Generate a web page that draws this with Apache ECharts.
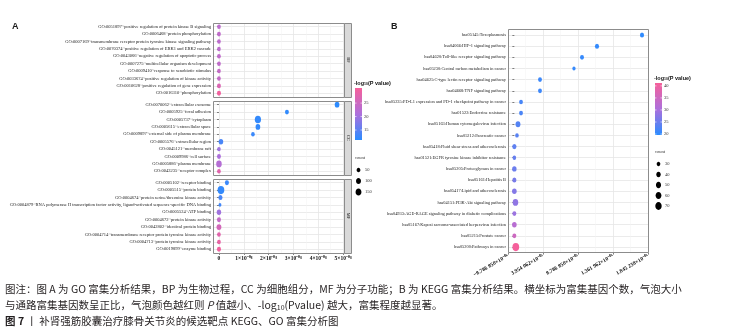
<!DOCTYPE html>
<html>
<head>
<meta charset="utf-8">
<script src="https://cdn.jsdelivr.net/npm/echarts@6/dist/echarts.min.js"></script>
<style>html,body{margin:0;padding:0;background:#fff}#main{width:742px;height:336px}</style>
</head>
<body>
<div id="main"></div>
<script>
// ---- GO: BP ----
var bpTerms = [
  'GO:0051897~positive regulation of protein kinase B signaling',
  'GO:0006468~protein phosphorylation',
  'GO:0007169~transmembrane receptor protein tyrosine kinase signaling pathway',
  'GO:0070374~positive regulation of ERK1 and ERK2 cascade',
  'GO:0043066~negative regulation of apoptotic process',
  'GO:0007275~multicellular organism development',
  'GO:0009410~response to xenobiotic stimulus',
  'GO:0033674~positive regulation of kinase activity',
  'GO:0010628~positive regulation of gene expression',
  'GO:0016310~phosphorylation'
];
var bpValue = [0, 0, 0, 0, 0, 0, 0, 0, 0, 0];
var bpCount = [48, 52, 46, 46, 50, 48, 47, 45, 55, 60];
var bpLogP = [23, 23.5, 23, 23, 23.5, 23.5, 24, 24, 27, 30];

// ---- GO: CC ----
var ccTerms = [
  'GO:0070062~extracellular exosome',
  'GO:0005925~focal adhesion',
  'GO:0005737~cytoplasm',
  'GO:0005615~extracellular space',
  'GO:0009897~external side of plasma membrane',
  'GO:0005576~extracellular region',
  'GO:0045121~membrane raft',
  'GO:0009986~cell surface',
  'GO:0005886~plasma membrane',
  'GO:0043235~receptor complex'
];
var ccValue = [4.76, 2.74, 1.57, 1.57, 1.37, 0.08, 0, 0, 0, 0];
var ccCount = [85, 55, 170, 85, 45, 80, 45, 55, 130, 45];
var ccLogP = [11.5, 11.8, 12, 12, 12.5, 13.5, 20, 21, 22, 28];

// ---- GO: MF ----
var mfTerms = [
  'GO:0005102~receptor binding',
  'GO:0005515~protein binding',
  'GO:0004674~protein serine/threonine kinase activity',
  'GO:0004879~RNA polymerase II transcription factor activity, ligand-activated sequence-specific DNA binding',
  'GO:0005524~ATP binding',
  'GO:0004672~protein kinase activity',
  'GO:0042802~identical protein binding',
  'GO:0004714~transmembrane receptor protein tyrosine kinase activity',
  'GO:0004713~protein tyrosine kinase activity',
  'GO:0019899~enzyme binding'
];
var mfValue = [0.32, 0.08, 0.06, 0.04, 0, 0, 0, 0, 0, 0];
var mfCount = [60, 200, 62, 25, 75, 60, 95, 45, 48, 60];
var mfLogP = [12.5, 12, 13.5, 13, 20, 24, 26, 28, 29, 30];

var goTicks = [0, 1, 2, 3, 4, 5];
var goTickLabels = ['0', '1×10⁻⁰⁸', '2×10⁻⁰⁸', '3×10⁻⁰⁸', '4×10⁻⁰⁸', '5×10⁻⁰⁸'];
var goMinor = [0.5, 1.5, 2.5, 3.5, 4.5];

// ---- KEGG ----
var keggTerms = [
  'hsa05145:Toxoplasmosis',
  'hsa04066:HIF-1 signaling pathway',
  'hsa04620:Toll-like receptor signaling pathway',
  'hsa05230:Central carbon metabolism in cancer',
  'hsa04625:C-type lectin receptor signaling pathway',
  'hsa04668:TNF signaling pathway',
  'hsa05235:PD-L1 expression and PD-1 checkpoint pathway in cancer',
  'hsa01522:Endocrine resistance',
  'hsa05163:Human cytomegalovirus infection',
  'hsa05212:Pancreatic cancer',
  'hsa05418:Fluid shear stress and atherosclerosis',
  'hsa01521:EGFR tyrosine kinase inhibitor resistance',
  'hsa05205:Proteoglycans in cancer',
  'hsa05161:Hepatitis B',
  'hsa05417:Lipid and atherosclerosis',
  'hsa04151:PI3K-Akt signaling pathway',
  'hsa04933:AGE-RAGE signaling pathway in diabetic complications',
  'hsa05167:Kaposi sarcoma-associated herpesvirus infection',
  'hsa05215:Prostate cancer',
  'hsa05200:Pathways in cancer'
];
var keggValue = [1.7625e-4, 1.141e-4, 9.34e-5, 8.23e-5, 3.54e-5, 3.54e-5, 9.2e-6, 9.2e-6, 5.0e-6, 3.6e-6,
  0, 0, 0, 0, 0, 1.5e-6, 0, 0, 0, 2.0e-6];
var keggCount = [36, 36, 34, 26, 33, 33, 32, 33, 46, 30, 38, 30, 40, 36, 42, 56, 34, 42, 34, 76];
var keggLogP = [20, 20.3, 20.5, 20.5, 21, 21.2, 22, 22.3, 23, 23.3, 24, 24.5, 25, 26, 27, 28, 29, 32, 35, 41];

var keggTicks = [-8.78685e-6, 3.954062e-5, 8.78685e-5, 1.361962e-4, 1.845238e-4];
var keggTickLabels = ['−8.786 850×10⁻⁰⁶', '3.954 062×10⁻⁰⁵', '8.786 850×10⁻⁰⁵', '1.361 962×10⁻⁰⁴', '1.845 238×10⁻⁰⁴'];
var keggMinor = [1.537688e-5, 6.370456e-5, 1.120424e-4, 1.6036e-4];

var goColorTicks = [25, 20, 15];
var keggColorTicks = [40, 35, 30, 25, 20];
var goSizeTicks = [50, 100, 150];
var keggSizeTicks = [30, 40, 50, 60, 70];

// ---- styling ----
var serif = 'Liberation Serif';
var sans = 'Liberation Sans';
var colorStops = ['#2b8cff', '#ad70dc', '#f6609a'];
var borderColor = '#8c8c8c';
var majorColor = '#e6e6e6';
var minorColor = '#f3f3f3';
var goRange = [11.3, 30.6];
var keggRange = [19.6, 41.2];

var aGrids = [
  { left: 213, top: 23, width: 131, height: 74 },
  { left: 213, top: 101, width: 131, height: 74 },
  { left: 213, top: 179, width: 131, height: 74 }
];
var bGrid = { left: 508, top: 29.4, width: 140, height: 223.2 };

function sizeA(c) {
  var d = 4.6 + (Math.sqrt(c) - Math.sqrt(50)) / (Math.sqrt(150) - Math.sqrt(50)) * 2.6;
  return [d * 0.82, d];
}
function sizeB(c) {
  var d = 4.4 + (Math.sqrt(c) - Math.sqrt(30)) / (Math.sqrt(70) - Math.sqrt(30)) * 3.4;
  return [d * 0.82, d];
}

function valueAxis(gi, min, max, ticks, opts) {
  return {
    type: 'value', gridIndex: gi, min: min, max: max,
    axisLine: { show: false },
    axisTick: { show: !!opts.ticks, customValues: ticks, length: 2, lineStyle: { color: '#333', width: 0.6 } },
    axisLabel: opts.label ? Object.assign({ customValues: ticks }, opts.label) : { show: false },
    splitLine: { show: true, lineStyle: { color: opts.grid, width: opts.gridWidth || 0.8 } }
  };
}

function catAxis(gi, terms, fs) {
  return {
    type: 'category', gridIndex: gi, data: terms, inverse: true,
    axisLine: { show: false },
    axisTick: { show: true, alignWithLabel: true, length: 2, lineStyle: { color: '#333', width: 0.6 } },
    axisLabel: { interval: 0, fontFamily: serif, fontSize: fs, color: '#1a1a1a', margin: 2 },
    splitLine: { show: true, alignWithLabel: true, lineStyle: { color: majorColor, width: 0.8 } }
  };
}

function scatter(xi, yi, terms, xs, counts, logps, sizeFn) {
  return {
    type: 'scatter', xAxisIndex: xi, yAxisIndex: yi, silent: true, z: 5,
    data: terms.map(function (t, i) { return [xs[i], t, counts[i], logps[i]]; }),
    symbol: 'circle',
    symbolSize: function (v) { return sizeFn(v[2]); },
    itemStyle: { opacity: 1 }
  };
}

function pickLabel(ticks, labels) {
  return function (v) {
    var best = 0;
    ticks.forEach(function (t, i) { if (Math.abs(t - v) < Math.abs(ticks[best] - v)) best = i; });
    return labels[best];
  };
}

var tickLabelStyle = { fontFamily: serif, fontWeight: 'bold', fontSize: 5.5, color: '#111', margin: 3 };

var xAxes = [];
aGrids.forEach(function (g, i) {
  xAxes.push(valueAxis(i, -0.24, 5.04, goTicks, {
    ticks: i === 2, grid: majorColor,
    label: i === 2 ? Object.assign({ formatter: pickLabel(goTicks, goTickLabels) }, tickLabelStyle) : null
  }));
});
aGrids.forEach(function (g, i) {
  xAxes.push(valueAxis(i, -0.24, 5.04, goMinor, { grid: minorColor, gridWidth: 0.5 }));
});
xAxes.push(valueAxis(3, keggTicks[0], keggTicks[4], keggTicks, {
  ticks: true, grid: majorColor,
  label: Object.assign({ formatter: pickLabel(keggTicks, keggTickLabels), rotate: 30 }, tickLabelStyle)
}));
xAxes.push(valueAxis(3, keggTicks[0], keggTicks[4], keggMinor, { grid: minorColor, gridWidth: 0.5 }));

var yAxes = [catAxis(0, bpTerms, 4.5), catAxis(1, ccTerms, 4.5), catAxis(2, mfTerms, 4.5), catAxis(3, keggTerms, 4.4)];

var series = [
  scatter(0, 0, bpTerms, bpValue, bpCount, bpLogP, sizeA),
  scatter(1, 1, ccTerms, ccValue, ccCount, ccLogP, sizeA),
  scatter(2, 2, mfTerms, mfValue, mfCount, mfLogP, sizeA),
  scatter(6, 3, keggTerms, keggValue, keggCount, keggLogP, sizeB)
];

// ---- graphic pieces: borders, strips, legends, caption ----
var graphics = [];
function border(g) {
  graphics.push({ type: 'rect', z: 100, silent: true,
    shape: { x: g.left + 0.5, y: Math.round(g.top) + 0.5, width: g.width, height: Math.round(g.height) },
    style: { fill: 'none', stroke: borderColor, lineWidth: 1 } });
}
aGrids.forEach(border);
border(bGrid);

['BP', 'CC', 'MF'].forEach(function (name, i) {
  var g = aGrids[i];
  graphics.push({ type: 'rect', z: 100, silent: true,
    shape: { x: g.left + g.width + 0.5, y: g.top + 0.5, width: 7, height: g.height },
    style: { fill: '#d9d9d9', stroke: borderColor, lineWidth: 1 } });
  graphics.push({ type: 'text', z: 101, silent: true,
    x: g.left + g.width + 4.5, y: g.top + g.height / 2, rotation: -Math.PI / 2,
    style: { text: name, fontFamily: serif, fontSize: 4.5, fill: '#1a1a1a', align: 'center', verticalAlign: 'middle' } });
});

graphics.push({ type: 'text', x: 12, y: 27, style: { text: 'A', fontFamily: sans, fontWeight: 'bold', fontSize: 9, fill: '#1a1a1a', verticalAlign: 'middle' } });
graphics.push({ type: 'text', x: 391, y: 27, style: { text: 'B', fontFamily: sans, fontWeight: 'bold', fontSize: 9, fill: '#1a1a1a', verticalAlign: 'middle' } });

function colorbar(x, y, h, range, ticks) {
  graphics.push({ type: 'text', x: x - 1, y: y - 5, style: {
    text: '-log{s|10}(P value)', fontFamily: sans, fontWeight: 'bold', fontSize: 5.5, fill: '#111', verticalAlign: 'middle',
    rich: { s: { fontFamily: sans, fontWeight: 'bold', fontSize: 3.5, fill: '#111', verticalAlign: 'bottom', padding: [3, 0, 0, 0] } } } });
  graphics.push({ type: 'rect', shape: { x: x, y: y, width: 7, height: h }, style: {
    fill: new echarts.graphic.LinearGradient(0, 0, 0, 1, [
      { offset: 0, color: colorStops[2] }, { offset: 0.5, color: colorStops[1] }, { offset: 1, color: colorStops[0] }]) } });
  ticks.forEach(function (v) {
    var ty = y + (range[1] - v) / (range[1] - range[0]) * h;
    graphics.push({ type: 'line', shape: { x1: x, y1: ty, x2: x + 1.5, y2: ty }, style: { stroke: '#fff', lineWidth: 0.6 } });
    graphics.push({ type: 'line', shape: { x1: x + 5.5, y1: ty, x2: x + 7, y2: ty }, style: { stroke: '#fff', lineWidth: 0.6 } });
    graphics.push({ type: 'text', x: x + 9, y: ty, style: { text: String(v), fontFamily: serif, fontSize: 4.5, fill: '#333', verticalAlign: 'middle' } });
  });
}
colorbar(355, 88, 52, goRange, goColorTicks);
colorbar(655, 83, 52, keggRange, keggColorTicks);

function sizeLegend(x, y, step, ticks, sizeFn) {
  graphics.push({ type: 'text', x: x, y: y, style: { text: 'count', fontFamily: serif, fontSize: 4.5, fill: '#333', verticalAlign: 'middle' } });
  ticks.forEach(function (c, i) {
    var s = sizeFn(c), cy = y + 12 + i * step;
    graphics.push({ type: 'ellipse', shape: { cx: x + 3.5, cy: cy, rx: s[0] / 2, ry: s[1] / 2 }, style: { fill: '#000' } });
    graphics.push({ type: 'text', x: x + 10, y: cy, style: { text: String(c), fontFamily: serif, fontSize: 4.5, fill: '#333', verticalAlign: 'middle' } });
  });
}
sizeLegend(355, 158, 11, goSizeTicks, sizeA);
sizeLegend(655, 152, 10.5, keggSizeTicks, sizeB);

var cjk = 'Noto Sans CJK SC';
var capStyle = { fontFamily: cjk, fontSize: 10.5, fill: '#231f20', verticalAlign: 'middle' };
graphics.push({ type: 'text', x: 5, y: 289, style: Object.assign({
  text: '图注：图 A 为 GO 富集分析结果，BP 为生物过程，CC 为细胞组分，MF 为分子功能；B 为 KEGG 富集分析结果。横坐标为富集基因个数，气泡大小' }, capStyle) });
graphics.push({ type: 'text', x: 5, y: 305, style: Object.assign({
  text: '与通路富集基因数呈正比，气泡颜色越红则 {i|P} 值越小、-log{s|10}(Pvalue) 越大，富集程度越显著。',
  rich: {
    i: { fontFamily: cjk, fontSize: 10.5, fontStyle: 'italic', fill: '#231f20' },
    s: { fontFamily: cjk, fontSize: 7, fill: '#231f20', verticalAlign: 'bottom', padding: [5, 0, 0, 0] }
  } }, capStyle) });
graphics.push({ type: 'text', x: 5, y: 321, style: Object.assign({
  text: '{b|图 7} 丨 补肾强筋胶囊治疗膝骨关节炎的候选靶点 KEGG、GO 富集分析图',
  rich: { b: { fontFamily: cjk, fontSize: 10.5, fontWeight: 'bold', fill: '#231f20' } } }, capStyle) });

var chart = echarts.init(document.getElementById('main'));
chart.setOption({
  animation: false,
  backgroundColor: '#fff',
  grid: aGrids.concat([bGrid]).map(function (g) { return Object.assign({ show: false, containLabel: false }, g); }),
  xAxis: xAxes,
  yAxis: yAxes,
  visualMap: [
    { type: 'continuous', show: false, seriesIndex: [0, 1, 2], dimension: 3, min: goRange[0], max: goRange[1], inRange: { color: colorStops } },
    { type: 'continuous', show: false, seriesIndex: [3], dimension: 3, min: keggRange[0], max: keggRange[1], inRange: { color: colorStops } }
  ],
  series: series,
  graphic: graphics
});
</script>
</body>
</html>
